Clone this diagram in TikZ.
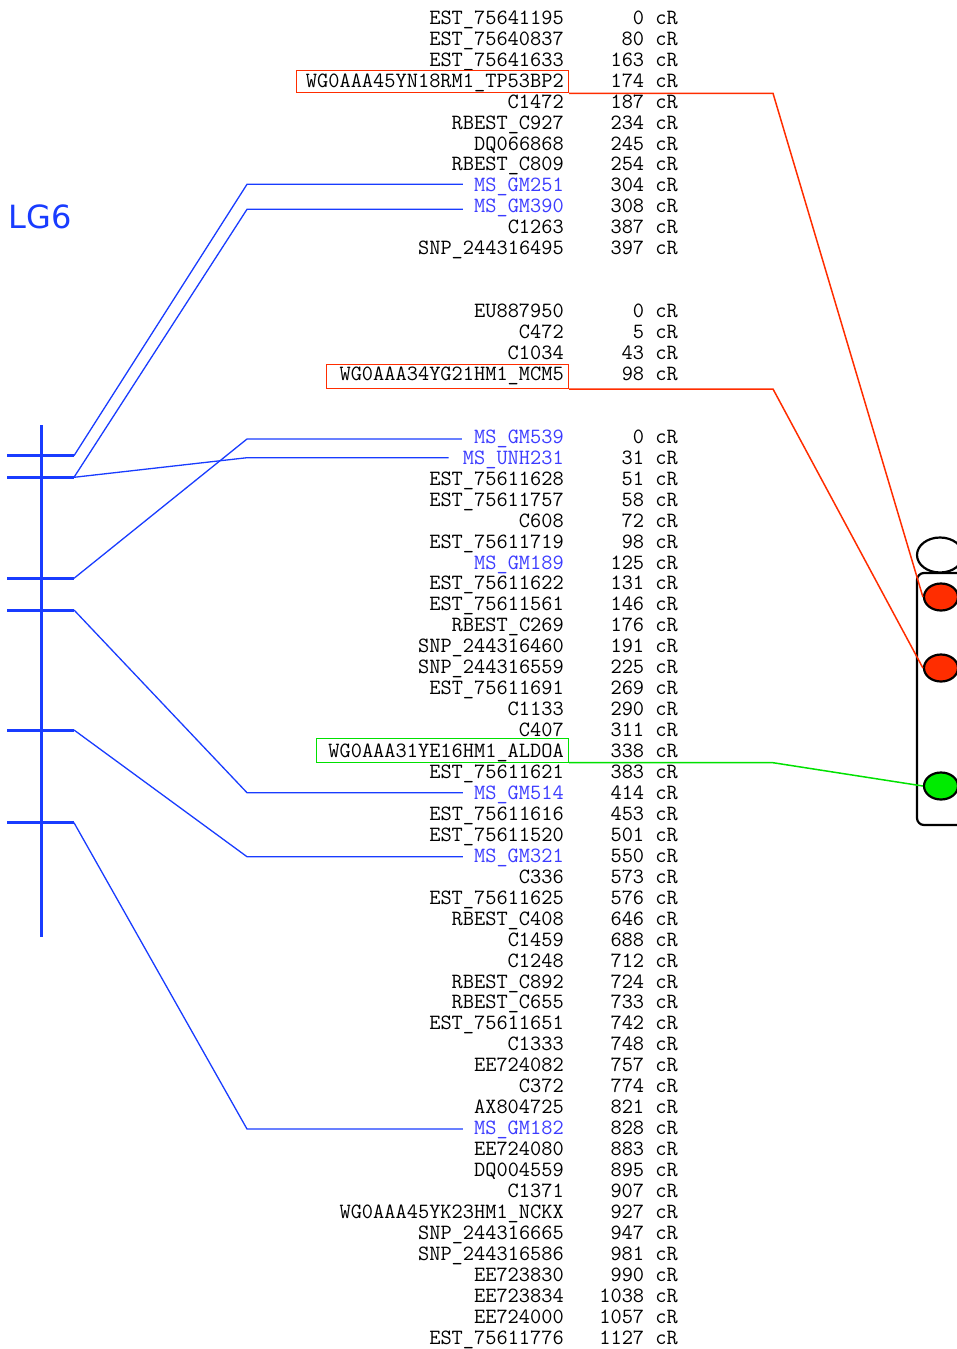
\documentclass[tikz,border=0pt]{standalone}
\usepackage{fontspec}
\usetikzlibrary{shapes.geometric,calc}
\newfontfamily\lgf{DejaVu Sans}
\definecolor{chrblue}{RGB}{25,60,255}
\definecolor{msblue}{RGB}{60,60,255}
\definecolor{lkred}{RGB}{255,45,0}
\definecolor{lkgreen}{RGB}{0,225,0}
\definecolor{elgreen}{RGB}{0,235,0}
\newcommand\mfont{\ttfamily\fontsize{21.77pt}{23pt}\selectfont}
\newcommand\mrow[4]{%
  \node[nm,#4] (r#1) at ({564},{24.3+20.95*#1}) {#2};
  \node[nm] (v#1) at ({678},{24.3+20.95*#1}) {#3~cR};
}
\tikzset{
  nm/.style={anchor=base east, inner sep=0pt, font=\mfont},
  msl/.style={text=msblue},
  chr/.style={draw=chrblue, line width=3pt},
  lnk/.style={draw=chrblue, line width=1.3pt},
  redbox/.style={draw=lkred, line width=1.2pt, inner sep=0pt, anchor=south east},
  greenbox/.style={draw=lkgreen, line width=1.2pt, inner sep=0pt, anchor=south east},
  redlk/.style={draw=lkred, line width=1.5pt},
  greenlk/.style={draw=lkgreen, line width=1.5pt},
  dot/.style={ellipse, draw=black, line width=2.2pt, inner sep=0pt, minimum width=34pt, minimum height=27pt},
}
\begin{document}
\begin{tikzpicture}[x=1pt,y=-1pt]
\useasboundingbox (0,0) rectangle (957,1349);
% LG6 label
\node[anchor=base west, inner sep=0pt, font=\lgf\fontsize{32pt}{38pt}\selectfont, text=chrblue] (lg) at (8.5,228) {LG6};
% chromosome
\coordinate (ctop) at (41,425);
\coordinate (cbot) at (41,937);
\draw[chr] (ctop) -- (cbot);
\foreach \n/\y in {1/455.7,2/477.3,3/578.3,4/610,5/730,6/822.7}{
  \coordinate (ka\n) at (7,\y);
  \coordinate (k\n) at (74,\y);
  \draw[chr] (ka\n) -- (k\n);
}
% group 1
\mrow{0}{EST\_75641195}{0}{}
\mrow{1}{EST\_75640837}{80}{}
\mrow{2}{EST\_75641633}{163}{}
\mrow{3}{WG0AAA45YN18RM1\_TP53BP2}{174}{}
\mrow{4}{C1472}{187}{}
\mrow{5}{RBEST\_C927}{234}{}
\mrow{6}{DQ066868}{245}{}
\mrow{7}{RBEST\_C809}{254}{}
\mrow{8}{MS\_GM251}{304}{msl}
\mrow{9}{MS\_GM390}{308}{msl}
\mrow{10}{C1263}{387}{}
\mrow{11}{SNP\_244316495}{397}{}
% group 2
\mrow{14}{EU887950}{0}{}
\mrow{15}{C472}{5}{}
\mrow{16}{C1034}{43}{}
\mrow{17}{WG0AAA34YG21HM1\_MCM5}{98}{}
% group 3
\mrow{20}{MS\_GM539}{0}{msl}
\mrow{21}{MS\_UNH231}{31}{msl}
\mrow{22}{EST\_75611628}{51}{}
\mrow{23}{EST\_75611757}{58}{}
\mrow{24}{C608}{72}{}
\mrow{25}{EST\_75611719}{98}{}
\mrow{26}{MS\_GM189}{125}{msl}
\mrow{27}{EST\_75611622}{131}{}
\mrow{28}{EST\_75611561}{146}{}
\mrow{29}{RBEST\_C269}{176}{}
\mrow{30}{SNP\_244316460}{191}{}
\mrow{31}{SNP\_244316559}{225}{}
\mrow{32}{EST\_75611691}{269}{}
\mrow{33}{C1133}{290}{}
\mrow{34}{C407}{311}{}
\mrow{35}{WG0AAA31YE16HM1\_ALDOA}{338}{}
\mrow{36}{EST\_75611621}{383}{}
\mrow{37}{MS\_GM514}{414}{msl}
\mrow{38}{EST\_75611616}{453}{}
\mrow{39}{EST\_75611520}{501}{}
\mrow{40}{MS\_GM321}{550}{msl}
\mrow{41}{C336}{573}{}
\mrow{42}{EST\_75611625}{576}{}
\mrow{43}{RBEST\_C408}{646}{}
\mrow{44}{C1459}{688}{}
\mrow{45}{C1248}{712}{}
\mrow{46}{RBEST\_C892}{724}{}
\mrow{47}{RBEST\_C655}{733}{}
\mrow{48}{EST\_75611651}{742}{}
\mrow{49}{C1333}{748}{}
\mrow{50}{EE724082}{757}{}
\mrow{51}{C372}{774}{}
\mrow{52}{AX804725}{821}{}
\mrow{53}{MS\_GM182}{828}{msl}
\mrow{54}{EE724080}{883}{}
\mrow{55}{DQ004559}{895}{}
\mrow{56}{C1371}{907}{}
\mrow{57}{WG0AAA45YK23HM1\_NCKX}{927}{}
\mrow{58}{SNP\_244316665}{947}{}
\mrow{59}{SNP\_244316586}{981}{}
\mrow{60}{EE723830}{990}{}
\mrow{61}{EE723834}{1038}{}
\mrow{62}{EE724000}{1057}{}
\mrow{63}{EST\_75611776}{1127}{}
% blue connectors
\coordinate (b8) at (247,184.3);
\coordinate (b9) at (247,209.3);
\coordinate (b20) at (247,439);
\coordinate (b21) at (247,457.7);
\coordinate (b37) at (247,792.7);
\coordinate (b40) at (247,856.7);
\coordinate (b53) at (247,1129);
\draw[lnk] (k1) -- (b8) -- ($(b8 -| r8.west)+(-11,0)$);
\draw[lnk] (k2) -- (b9) -- ($(b9 -| r9.west)+(-11,0)$);
\draw[lnk] (k2) -- (b21) -- ($(b21 -| r21.west)+(-14,0)$);
\draw[lnk] (k3) -- (b20) -- ($(b20 -| r20.west)+(-12,0)$);
\draw[lnk] (k4) -- (b37) -- ($(b37 -| r37.west)+(-11,0)$);
\draw[lnk] (k5) -- (b40) -- ($(b40 -| r40.west)+(-11,0)$);
\draw[lnk] (k6) -- (b53) -- ($(b53 -| r53.west)+(-11,0)$);
% highlight boxes
\node[redbox, minimum width=272pt, minimum height=22.6pt] (bx1) at (569,93.3) {};
\node[redbox, minimum width=242pt, minimum height=24.3pt] (bx2) at (569,389) {};
\node[greenbox, minimum width=252pt, minimum height=23.4pt] (bx3) at (569,762.7) {};
% right-hand figure
\begin{scope}
\clip (0,0) rectangle (957,1349);
\draw[line width=2.2pt, rounded corners=7pt] (917,573) rectangle (1010,825);
\node[dot, fill=white, minimum width=46pt, minimum height=35pt] (e0) at (940,555) {};
\node[dot, fill=lkred] (e1) at (941,597) {};
\node[dot, fill=lkred] (e2) at (941,668) {};
\node[dot, fill=elgreen] (e3) at (941,786) {};
\coordinate (m1) at (773,93.3);
\coordinate (m2) at (773,389);
\coordinate (m3) at (773,762.7);
\draw[redlk] (bx1.south east) -- (m1) -- (e1.west);
\draw[redlk] (bx2.south east) -- (m2) -- (e2.west);
\draw[greenlk] (bx3.south east) -- (m3) -- (e3.west);
\end{scope}
\end{tikzpicture}
\end{document}
